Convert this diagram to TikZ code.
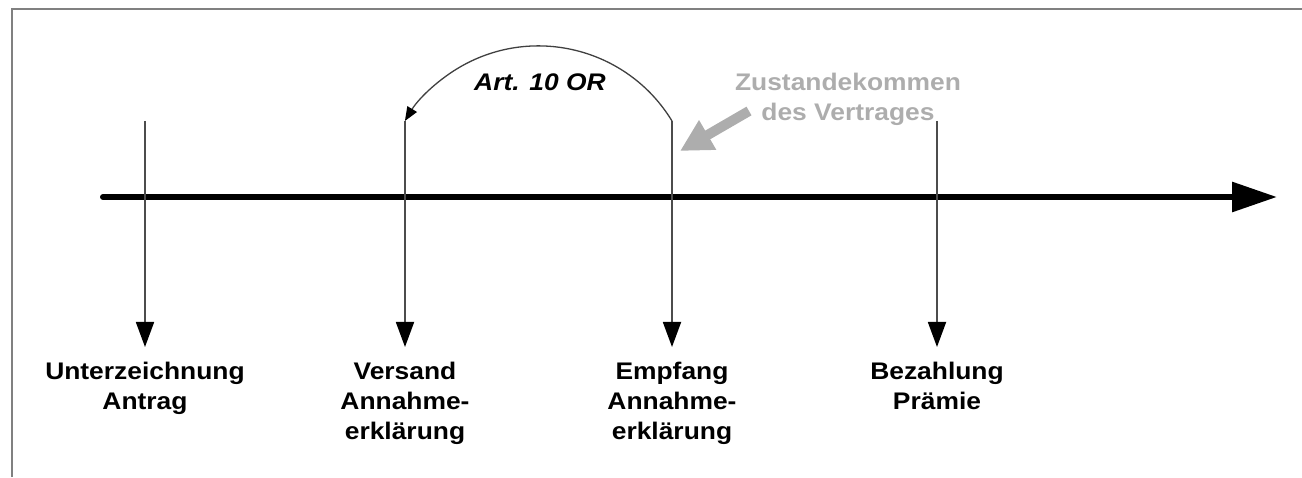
\documentclass[tikz,border=0pt]{standalone}
\usepackage{fontspec}
\setmainfont{Liberation Sans}[FakeStretch=1.1]
\usetikzlibrary{arrows.meta,positioning}

\tikzset{
  lbl/.style={align=center,inner sep=0pt,font=\fontsize{24}{30}\selectfont\bfseries},
  tick/.style={draw=black!70,line width=1.8pt,-{Triangle[length=25pt,width=18pt,color=black]}},
  hint/.style={black!32}
}

\begin{document}
\begin{tikzpicture}[x=1pt,y=1pt]
\useasboundingbox (0,0) rectangle (1302,477);
% frame
\draw [black!50,line width=2pt] (12,0) -- (12,468) -- (1302,468);
% time axis
\coordinate (A0) at (103,280);
\coordinate (A1) at (1277,280);
\draw [line width=6pt,line cap=round,-{Triangle[length=45pt,width=29pt]}] (A0) -- (A1);
% events
\coordinate (U1) at (145,356); \coordinate (U2) at (145,130);
\coordinate (V1) at (405,356); \coordinate (V2) at (405,130);
\coordinate (E1) at (672,356); \coordinate (E2) at (672,130);
\coordinate (B1) at (937,356); \coordinate (B2) at (937,130);
\draw [tick] (U1) -- (U2);
\draw [tick] (V1) -- (V2);
\draw [tick] (E1) -- (E2);
\draw [tick] (B1) -- (B2);
\node (U) [lbl,below=15pt of U2] {Unterzeichnung\\Antrag};
\node (V) [lbl,below=15pt of V2] {Versand\\Annahme-\\erklärung};
\node (E) [lbl,below=15pt of E2] {Empfang\\Annahme-\\erklärung};
\node (B) [lbl,below=15pt of B2] {Bezahlung\\Prämie};
% Art. 10 OR
\draw [black!75,line width=1.3pt,-{Triangle[length=14pt,width=11pt,color=black]}] (E1) arc[start angle=31.3,end angle=148.7,radius=156.3];
\node (art) at (540,395) [lbl,font=\fontsize{24}{30}\selectfont\bfseries\itshape] {Art. 10 OR};
% Zustandekommen
\node (Z) at (848,404) [lbl,hint,anchor=north] {Zustandekommen\\des Vertrages};
\coordinate (Z1) at (749,366);
\coordinate (Z2) at (680,326);
\draw [hint,line width=10pt,-{Triangle[length=32pt,width=32pt]}] (Z1) -- (Z2);
\end{tikzpicture}
\end{document}
